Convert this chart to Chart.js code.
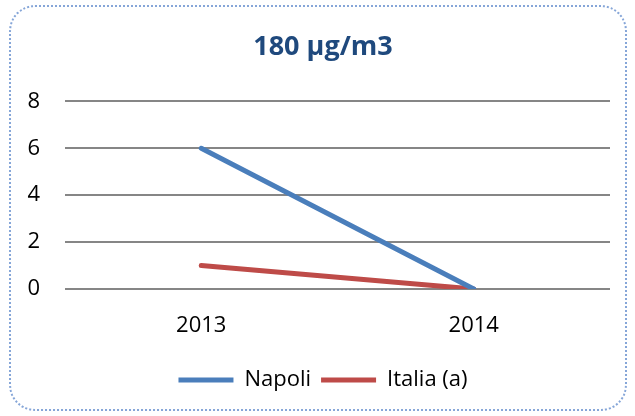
<!DOCTYPE html>
<html>
<head>
<meta charset="utf-8">
<title>180 µg/m3</title>
<script src="https://cdn.jsdelivr.net/npm/chart.js@4/dist/chart.umd.min.js"></script>
<style>
  html, body { margin: 0; padding: 0; background: #fff; }
  #wrap { position: relative; width: 635px; height: 416px; }
  #frame {
    position: absolute; left: 9px; top: 5px; width: 614px; height: 402px;
    border: 2px dotted #86a6d8; border-radius: 26px;
  }
  #chart { position: absolute; left: 0; top: 0; }
</style>
</head>
<body>
<div id="wrap">
  <div id="frame"></div>
  <canvas id="chart" width="635" height="416"></canvas>
</div>
<script>
// Data
var YEARS = ['2013', '2014'];
var NAPOLI = [6, 0];
var ITALIA = [1, 0];

var FONT = 'Open Sans, sans-serif';

var ctx = document.getElementById('chart').getContext('2d');
new Chart(ctx, {
  type: 'line',
  data: {
    labels: YEARS,
    datasets: [
      {
        label: 'Napoli',
        data: NAPOLI,
        borderColor: '#4a7ebb',
        backgroundColor: '#4a7ebb',
        borderWidth: 5,
        borderCapStyle: 'round',
        pointRadius: 0,
        tension: 0,
      },
      {
        label: 'Italia (a)',
        data: ITALIA,
        borderColor: '#be4b48',
        backgroundColor: '#be4b48',
        borderWidth: 5,
        borderCapStyle: 'round',
        pointRadius: 0,
        tension: 0,
      },
    ],
  },
  options: {
    responsive: false,
    animation: false,
    layout: { padding: { left: 26, right: 15, top: 0, bottom: 15 } },
    plugins: {
      title: {
        display: true,
        text: '180 µg/m3',
        color: '#1f497d',
        font: { family: FONT, size: 27, weight: 'bold' },
        padding: { top: 31, bottom: 38 },
      },
      legend: {
        position: 'bottom',
        labels: {
          usePointStyle: true,
          pointStyle: 'line',
          pointStyleWidth: 55,
          color: '#000',
          padding: 10,
          font: { family: FONT, size: 22 },
        },
      },
      tooltip: { enabled: false },
    },
    scales: {
      x: {
        offset: true,
        grid: { display: false, drawTicks: false },
        border: { display: false },
        ticks: { color: '#000', padding: 24, font: { family: FONT, size: 22 } },
        afterFit: function (s) { s.height = 70; },
      },
      y: {
        min: 0,
        max: 8,
        ticks: { stepSize: 2, color: '#000', padding: 25, font: { family: FONT, size: 22 } },
        grid: { color: '#868686', lineWidth: 2, drawTicks: false },
        border: { display: false },
        afterFit: function (s) { s.width = 39; },
      },
      // empty right-hand spacer so the plot ends where the reference's does
      spacer: {
        type: 'linear',
        position: 'right',
        grid: { display: false, drawTicks: false },
        border: { display: false },
        ticks: { display: false },
        afterFit: function (s) { s.width = 10; },
      },
    },
  },
});
</script>
</body>
</html>
